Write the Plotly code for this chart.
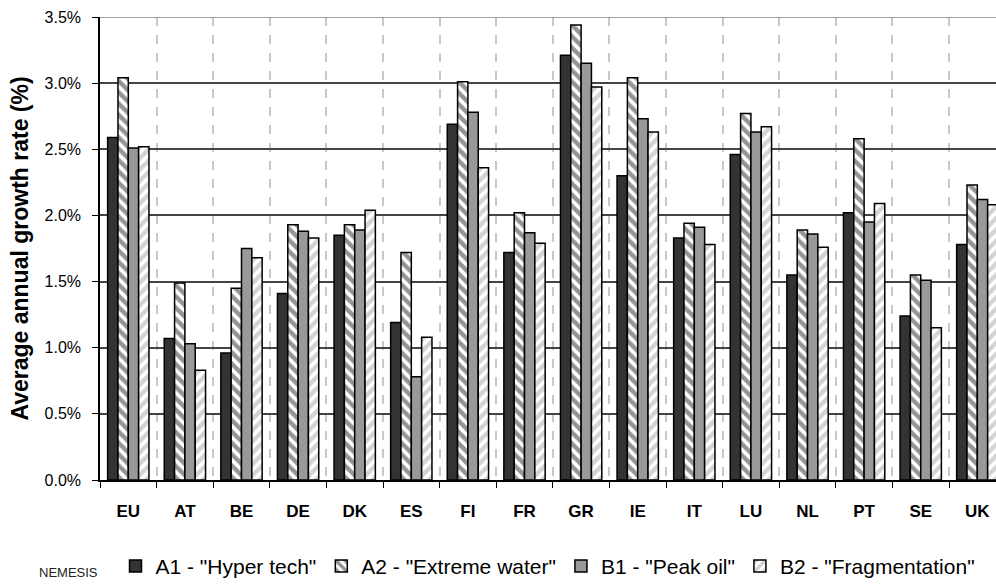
import plotly.graph_objects as go

categories = ["EU", "AT", "BE", "DE", "DK", "ES", "FI", "FR", "GR", "IE", "IT", "LU", "NL", "PT", "SE", "UK"]
a1_hyper_tech = [2.59, 1.07, 0.96, 1.41, 1.85, 1.19, 2.69, 1.72, 3.21, 2.30, 1.83, 2.46, 1.55, 2.02, 1.24, 1.78]
a2_extreme_water = [3.04, 1.49, 1.45, 1.93, 1.93, 1.72, 3.01, 2.02, 3.44, 3.04, 1.94, 2.77, 1.89, 2.58, 1.55, 2.23]
b1_peak_oil = [2.51, 1.03, 1.75, 1.88, 1.89, 0.78, 2.78, 1.87, 3.15, 2.73, 1.91, 2.63, 1.86, 1.95, 1.51, 2.12]
b2_fragmentation = [2.52, 0.83, 1.68, 1.83, 2.04, 1.08, 2.36, 1.79, 2.97, 2.63, 1.78, 2.67, 1.76, 2.09, 1.15, 2.08]

series_names = ['A1 - "Hyper tech"', 'A2 - "Extreme water"', 'B1 - "Peak oil"', 'B2 - "Fragmentation"']

FONT = "Liberation Sans, Arial, sans-serif"
fig = go.Figure()
line = dict(color="black", width=1.5)
fig.add_trace(go.Bar(name=series_names[0], x=categories, y=[v / 100 for v in a1_hyper_tech],
                     marker=dict(color="#333333", line=line)))
fig.add_trace(go.Bar(name=series_names[1], x=categories, y=[v / 100 for v in a2_extreme_water],
                     marker=dict(color="white", line=line,
                                 pattern=dict(shape="\\", fgcolor="#2a2a2a", bgcolor="white",
                                              size=8, solidity=0.55))))
fig.add_trace(go.Bar(name=series_names[2], x=categories, y=[v / 100 for v in b1_peak_oil],
                     marker=dict(color="#999999", line=line)))
fig.add_trace(go.Bar(name=series_names[3], x=categories, y=[v / 100 for v in b2_fragmentation],
                     marker=dict(color="white", line=line,
                                 pattern=dict(shape="/", fgcolor="#a8a8a8", bgcolor="white",
                                              size=8, solidity=0.55))))

PLOT_L, PLOT_T, PLOT_W, PLOT_H = 100, 17, 896, 467
def px2x(px):
    return (px - PLOT_L) / PLOT_W
def px2y(py):
    return 1 - (py - PLOT_T) / PLOT_H

fig.update_layout(
    width=996, height=587,
    barmode="group", bargap=0.27, bargroupgap=0,
    plot_bgcolor="white", paper_bgcolor="white",
    margin=dict(l=PLOT_L, r=0, t=PLOT_T, b=587 - PLOT_T - PLOT_H),
    font=dict(family=FONT, color="black"),
    showlegend=True,
    legend=dict(orientation="h", yanchor="middle", y=px2y(571), xanchor="center", x=px2x(548),
                font=dict(size=21, family=FONT), bgcolor="rgba(0,0,0,0)",
                borderwidth=0, itemwidth=30, traceorder="normal"),
    annotations=[dict(text="NEMESIS", xref="paper", yref="paper", x=px2x(68), y=px2y(587),
                      xanchor="center", yanchor="bottom", showarrow=False,
                      font=dict(size=13, color="#222"))],
)

fig.update_xaxes(
    type="category", range=[-0.5, 15.33],
    tickson="boundaries", ticks="outside", ticklen=6, tickcolor="black",
    showgrid=True, gridcolor="#c8c8c8", griddash="dash", gridwidth=1.5,
    showline=True, linecolor="black", linewidth=1.5,
    ticklabelstandoff=15, automargin=False,
    tickfont=dict(size=17, family=FONT, weight="bold"),
)
fig.update_yaxes(
    range=[0, 0.035], dtick=0.005, tickformat=".1%",
    ticks="outside", ticklen=6, tickcolor="black",
    showgrid=True, gridcolor="#444444", gridwidth=1.5,
    showline=True, linecolor="black", linewidth=1.5,
    zeroline=False, automargin=False, ticklabelstandoff=8,
    tickfont=dict(size=16),
    title=dict(text="<b>Average annual growth rate (%)</b>", font=dict(size=23), standoff=10),
)
fig.add_hline(y=0.035, line=dict(color="#888888", width=1.5))

fig.write_html("out.html", config={"displayModeBar": False},
               post_script="document.body.style.margin='0';document.body.style.overflow='hidden';")
